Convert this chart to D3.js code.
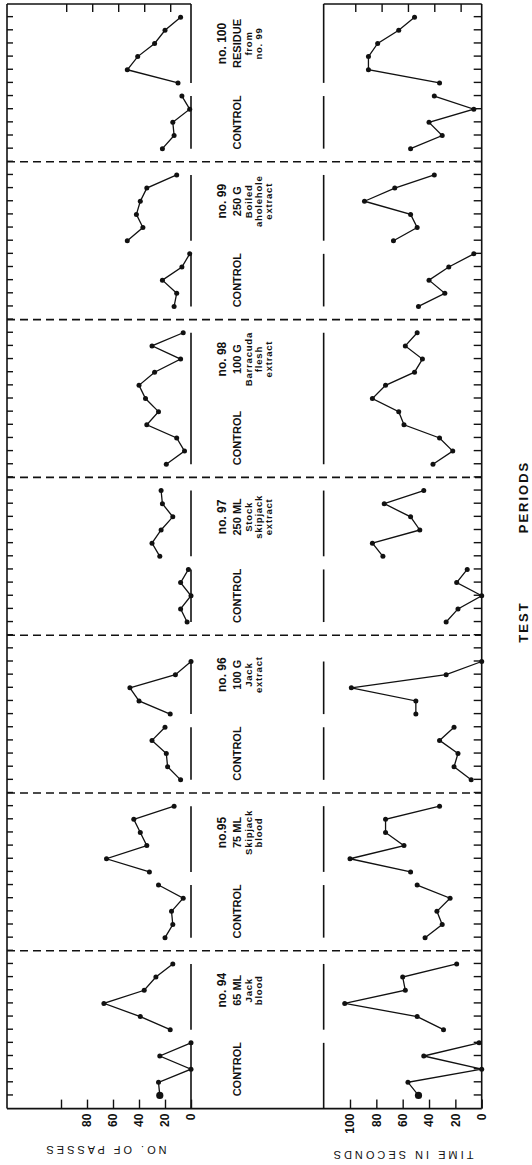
<!DOCTYPE html>
<html>
<head>
<meta charset="utf-8">
<script src="https://cdn.jsdelivr.net/npm/d3@7"></script>
<style>
body { margin: 0; background: #fff; }
svg { display: block; font-family: "Liberation Sans", Arial, sans-serif; }
.frame, .seg { stroke: #111; stroke-width: 1.6; fill: none; }
.divider { stroke: #111; stroke-width: 1.6; stroke-dasharray: 8,5; }
.trace { fill: none; stroke: #111; stroke-width: 1.3; }
.dot { fill: #111; }
.axis path { display: none; }
.axis line { stroke: #111; stroke-width: 1.4; }
.axis text { font-size: 12px; fill: #111; font-weight: bold; }
.lbl { fill: #111; font-weight: bold; }
</style>
</head>
<body>
<div id="chart"></div>
<script>
// experiments, left to right along the test periods
var expNames = ["no. 94", "no.95", "no. 96", "no. 97", "no. 98", "no. 99", "no. 100"];
var treatText = [
	["65 ML", "Jack", "blood"],
	["75 ML", "Skipjack", "blood"],
	["100 G", "Jack", "extract"],
	["250 ML", "Stock", "skipjack", "extract"],
	["100 G", "Barracuda", "flesh", "extract"],
	["250 G", "Boiled", "aholehole", "extract"],
	["RESIDUE", "from", "no. 99"]
];

// first test period of each control / treatment run
var controlStart = [1, 13, 25, 37, 49, 61, 73];
var treatStart = [6, 18, 30, 42, 54, 66, 78];
// control and treatment drawn as one trace
var joined = [false, false, false, false, true, false, false];

// number of passes
var passControl = [
	[24, 25, 0, 24, 0],
	[20, 14, 15, 6, 25],
	[8, 18, 19, 30, 20],
	[3, 8, 0, 8, 2],
	[19, 5, 11, 34, 25],
	[13, 11, 22, 7, 1],
	[22, 13, 14, 1, 7]
];
var passTreat = [
	[16, 39, 67, 36, 27, 14],
	[32, 65, 34, 39, 44, 13],
	[16, 40, 47, 12, 0],
	[24, 30, 23, 14, 22, 23],
	[35, 40, 28, 8, 30, 6],
	[49, 37, 42, 39, 34, 11],
	[10, 49, 41, 28, 20, 8]
];

// time in seconds
var timeControl = [
	[48, 56, 0, 44, 2],
	[43, 30, 34, 24, 49],
	[8, 21, 18, 32, 21],
	[27, 18, 0, 19, 11],
	[37, 22, 32, 59, 63],
	[48, 28, 40, 25, 6],
	[54, 30, 40, 6, 36]
];
var timeTreat = [
	[29, 49, 104, 58, 60, 19],
	[54, 100, 59, 73, 73, 32],
	[50, 50, 99, 27, 0],
	[75, 83, 47, 54, 74, 44],
	[83, 73, 51, 45, 58, 49],
	[67, 49, 54, 89, 66, 36],
	[32, 86, 86, 79, 63, 51]
];

// base-line pieces under each run (in test periods)
var baseSegs = [[0, 5], [6, 11], [13, 17], [18, 23], [25, 29], [30, 34], [37, 41], [42, 47],
	[49, 59], [61, 65], [66, 71], [73, 77], [78, 84]];

var passTicks = [0, 20, 40, 60, 80, 100];
var timeTicks = [0, 20, 40, 60, 80, 100];
var edgeTicks = [16, 36, 56, 76, 96];
var nPeriods = 84;
var timeTop = 120;

var W = 532, H = 1165;
var svg = d3.select("#chart").append("svg").attr("width", W).attr("height", H);

// the figure is laid out landscape and turned a quarter turn
var g = svg.append("g").attr("transform", "translate(0," + H + ") rotate(-90)");

var x = d3.scaleLinear().domain([0, nPeriods]).range([56.4, 1161]);
var yPass = d3.scaleLinear().domain([0, 100]).range([191, 61]);
var yTime = d3.scaleLinear().domain([0, 100]).range([481.7, 350]);
var top0 = 7;

// frame
g.append("line").attr("class", "frame").attr("x1", x(0)).attr("x2", x(nPeriods)).attr("y1", top0).attr("y2", top0);
g.append("line").attr("class", "frame").attr("x1", x(0)).attr("x2", x(nPeriods)).attr("y1", yTime(0)).attr("y2", yTime(0));
g.append("line").attr("class", "frame").attr("x1", x(0)).attr("x2", x(0)).attr("y1", top0).attr("y2", yTime(0));
g.append("line").attr("class", "frame").attr("x1", x(nPeriods)).attr("x2", x(nPeriods)).attr("y1", top0).attr("y2", yPass(0));
g.append("line").attr("class", "frame").attr("x1", x(nPeriods)).attr("x2", x(nPeriods)).attr("y1", yTime(timeTop)).attr("y2", yTime(0));

// dashed dividers between experiments
var dividers = controlStart.slice(1).map(function(d) { return d - 1; });
g.selectAll(".divider").data(dividers).enter().append("line")
	.attr("class", "divider")
	.attr("x1", function(d) { return x(d); }).attr("x2", function(d) { return x(d); })
	.attr("y1", top0).attr("y2", yTime(0));

// base-line pieces
g.selectAll(".segP").data(baseSegs).enter().append("line")
	.attr("class", "seg")
	.attr("x1", function(d) { return x(d[0]); }).attr("x2", function(d) { return x(d[1]); })
	.attr("y1", yPass(0)).attr("y2", yPass(0));
g.selectAll(".segT").data(baseSegs).enter().append("line")
	.attr("class", "seg")
	.attr("x1", function(d) { return x(d[0]); }).attr("x2", function(d) { return x(d[1]); })
	.attr("y1", yTime(timeTop)).attr("y2", yTime(timeTop));

// axes
var periods = d3.range(1, nPeriods);
g.append("g").attr("class", "axis").attr("transform", "translate(0," + top0 + ")")
	.call(d3.axisTop(x).tickValues(periods).tickSize(-6).tickFormat(""));
g.append("g").attr("class", "axis").attr("transform", "translate(0," + yTime(0) + ")")
	.call(d3.axisBottom(x).tickValues(periods).tickSize(-8).tickFormat(""));

g.append("g").attr("class", "axis").attr("transform", "translate(" + x(0) + ",0)")
	.call(d3.axisLeft(yPass).tickValues(passTicks).tickSize(-9).tickPadding(5)
		.tickFormat(function(d) { return d == 100 ? "" : d; }));
g.append("g").attr("class", "axis").attr("transform", "translate(" + x(0) + ",0)")
	.call(d3.axisLeft(yTime).tickValues(timeTicks).tickSize(-9).tickPadding(5));

g.append("g").attr("class", "axis").attr("transform", "translate(" + x(nPeriods) + ",0)")
	.call(d3.axisRight(yPass).tickValues(edgeTicks).tickSize(-8).tickFormat(""));
g.append("g").attr("class", "axis").attr("transform", "translate(" + x(nPeriods) + ",0)")
	.call(d3.axisRight(yTime).tickValues(edgeTicks).tickSize(-8).tickFormat(""));

// traces
function runPoints(vals, start) {
	return vals.map(function(v, i) { return {p: start + i, v: v}; });
}

function drawPanel(ctrl, treat, y) {
	var line = d3.line().x(function(d) { return x(d.p); }).y(function(d) { return y(d.v); });
	for (var e = 0; e < expNames.length; e++) {
		var c = runPoints(ctrl[e], controlStart[e]);
		var t = runPoints(treat[e], treatStart[e]);
		var runs = joined[e] ? [c.concat(t)] : [c, t];
		runs.forEach(function(r) {
			g.append("path").datum(r).attr("class", "trace").attr("d", line);
		});
		g.selectAll(null).data(c.concat(t)).enter().append("circle")
			.attr("class", "dot")
			.attr("cx", function(d) { return x(d.p); })
			.attr("cy", function(d) { return y(d.v); })
			.attr("r", function(d, i) { return (e == 0 && i == 0) ? 3.6 : 2.5; });
	}
}
drawPanel(passControl, passTreat, yPass);
drawPanel(timeControl, timeTreat, yTime);

// run labels
var lineY = [237, 248, 258, 268];
for (var e = 0; e < expNames.length; e++) {
	g.append("text").attr("class", "lbl")
		.attr("x", x(controlStart[e] + 2)).attr("y", 237)
		.attr("text-anchor", "middle").attr("dominant-baseline", "central")
		.style("font-size", "11px").text("CONTROL");
	var tx = x(treatStart[e] + 3);
	g.append("text").attr("class", "lbl")
		.attr("x", tx).attr("y", 222)
		.attr("text-anchor", "middle").attr("dominant-baseline", "central")
		.style("font-size", "12px").text(expNames[e]);
	treatText[e].forEach(function(s, k) {
		g.append("text").attr("class", "lbl")
			.attr("x", tx).attr("y", lineY[k])
			.attr("text-anchor", "middle").attr("dominant-baseline", "central")
			.style("font-size", k == 0 ? "11px" : "9.5px")
			.style("letter-spacing", k == 0 ? "0px" : "0.8px")
			.text(s);
	});
}

// axis titles
g.append("text").attr("class", "lbl")
	.attr("transform", "translate(15,105) rotate(-90)")
	.attr("text-anchor", "middle").attr("dominant-baseline", "central")
	.style("font-size", "11px").style("letter-spacing", "3px").style("font-weight", "normal")
	.text("NO.  OF  PASSES");
g.append("text").attr("class", "lbl")
	.attr("transform", "translate(10,402) rotate(-90)")
	.attr("text-anchor", "middle").attr("dominant-baseline", "central")
	.style("font-size", "11px").style("letter-spacing", "3px").style("font-weight", "normal")
	.text("TIME  IN  SECONDS");
g.append("text").attr("class", "lbl")
	.attr("x", H - 622).attr("y", 523)
	.attr("text-anchor", "middle").attr("dominant-baseline", "central")
	.style("font-size", "13px").style("letter-spacing", "2px")
	.text("TEST");
g.append("text").attr("class", "lbl")
	.attr("x", H - 497).attr("y", 523)
	.attr("text-anchor", "middle").attr("dominant-baseline", "central")
	.style("font-size", "13px").style("letter-spacing", "2px")
	.text("PERIODS");
</script>
</body>
</html>
